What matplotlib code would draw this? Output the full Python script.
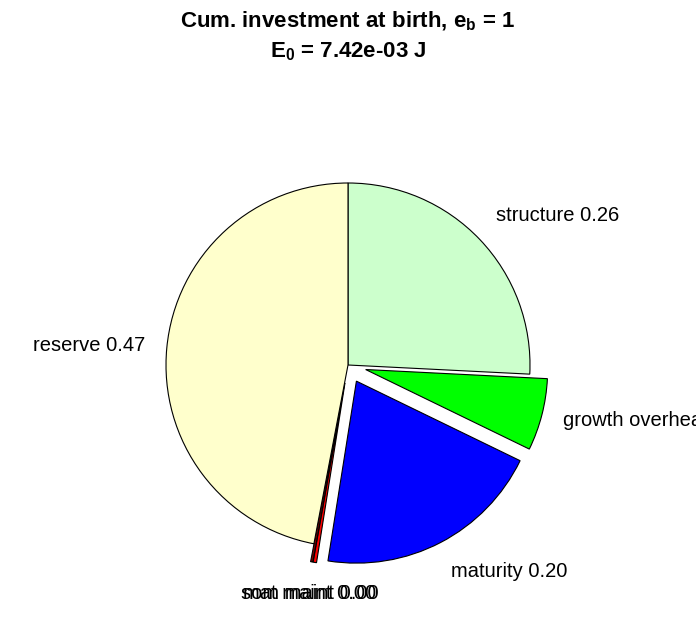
import matplotlib
matplotlib.use('Agg')
import matplotlib.pyplot as plt
import numpy as np

plt.rcParams['font.family'] = ['Liberation Sans', 'DejaVu Sans']
plt.rcParams['mathtext.default'] = 'regular'

# energy fractions at birth
names = ['structure', 'growth overhead', 'maturity', 'som maint', 'mat maint', 'reserve']
fractions = [0.258, 0.064, 0.203, 0.003, 0.002, 0.470]
colors = ['#CCFFCC', '#00FF00', '#0000FF', '#FF0000', '#800000', '#FFFFCC']
explode = [0, 0.1, 0.1, 0.1, 0.1, 0]
labels = ['%s %.2f' % (n, f) for n, f in zip(names, fractions)]

fig = plt.figure(figsize=(6.96, 6.18), dpi=100)
W, H = 696, 618
R = 182.0          # pie radius in px
cx, cy = 348, 365  # pie centre in px (from top)
a = 1.4
size = 2 * a * R
ax = fig.add_axes([(cx - size / 2) / W, (H - cy - size / 2) / H, size / W, size / H])

wedges, texts = ax.pie(fractions, labels=labels, colors=colors, explode=explode,
                       startangle=90, counterclock=False, labeldistance=1.12,
                       wedgeprops=dict(edgecolor='black', linewidth=0.8),
                       textprops=dict(fontsize=14.5))
ax.set_xlim(-a, a)
ax.set_ylim(-a, a)
ax.set_aspect('equal')
ax.axis('off')

for w, t in zip(wedges, texts):
    ang = np.deg2rad((w.theta1 + w.theta2) / 2)
    c, s = np.cos(ang), np.sin(ang)
    if abs(c) < 0.3:
        t.set_ha('center')
    else:
        t.set_ha('left' if c > 0 else 'right')
    if s > 0.3:
        t.set_va('bottom')
    elif s < -0.3:
        t.set_va('top')
    else:
        t.set_va('center')

# the two tiny maintenance slices share one label spot, as in the original
p3 = np.array(texts[3].get_position())
p4 = np.array(texts[4].get_position())
mid = (p3 + p4) / 2
texts[3].set_position(mid)
texts[4].set_position(mid)

fig.text(0.5, 1 - 27 / H, r'Cum. investment at birth, $e_b$ = 1', ha='center', va='baseline',
         fontsize=16, fontweight='bold')
fig.text(0.5, 1 - 57 / H, r'$E_0$ = 7.42e-03 J', ha='center', va='baseline',
         fontsize=16, fontweight='bold')

plt.savefig('out.png', dpi=100)
